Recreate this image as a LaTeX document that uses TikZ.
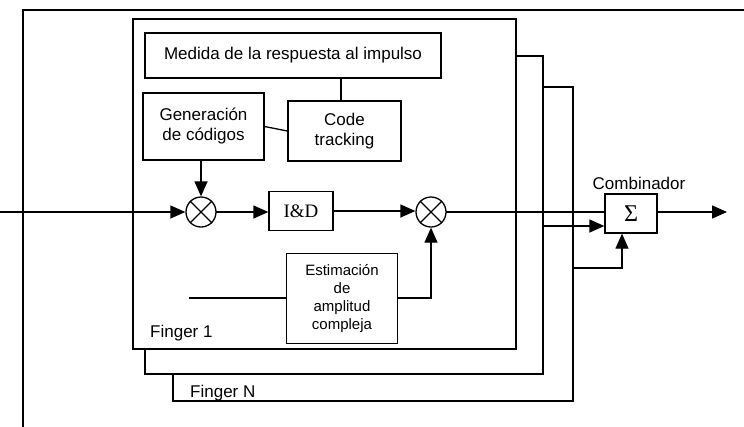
\documentclass[tikz,border=0pt]{standalone}
\usepackage{fontspec}
\setmainfont{Liberation Sans}
\newfontfamily\seriffont{Liberation Serif}
\usetikzlibrary{arrows.meta}
\tikzset{
  ln/.style={line width=1.3pt, line cap=rect},
  arr/.style={ln, -{Triangle[length=15pt,width=13pt]}},
  blk/.style={draw, line width=1.3pt, fill=white, inner sep=0pt, align=center,
    font=\fontsize{17}{20}\selectfont},
  mult/.style={draw, circle, line width=1.3pt, minimum size=30pt, inner sep=0pt, fill=white},
  fing/.style={draw, line width=1.3pt, fill=white},
  lbl/.style={inner sep=0pt, font=\fontsize{17}{20}\selectfont}
}
\begin{document}
\begin{tikzpicture}[x=1pt,y=-1pt]
\useasboundingbox (0,0) rectangle (744,426);
% outer frame
\draw[ln] (23,426) -- (23,10) -- (744,10);
% finger frames (back to front)
\draw[fing] (173,87) rectangle (573,401);
\draw[fing] (145,56) rectangle (543,374);
\draw[fing] (133,19) rectangle (516,349);
\node[lbl, anchor=base west] (f1) at (150,337) {Finger 1};
\node[lbl, anchor=base west] (fn) at (190,397) {Finger N};
% blocks
\node[blk, minimum width=296pt, minimum height=45pt] (meas) at (293,55.5) {Medida de la respuesta al impulso};
\node[blk, minimum width=121pt, minimum height=67pt] (gen) at (203.5,126.5) {Generación\\de códigos};
\node[blk, minimum width=113pt, minimum height=60pt] (code) at (344.5,131) {Code\\tracking};
\node[mult] (m1) at (201,212) {};
\draw[line width=1.3pt] (m1.north east) -- (m1.south west) (m1.north west) -- (m1.south east);
\node[blk, minimum width=64pt, minimum height=39pt, font=\seriffont\fontsize{19}{20}\selectfont] (id) at (301,211) {I\&D};
\node[mult] (m2) at (431,212) {};
\draw[line width=1.3pt] (m2.north east) -- (m2.south west) (m2.north west) -- (m2.south east);
\node[blk, minimum width=111pt, minimum height=90pt, font=\fontsize{15}{18}\selectfont] (est) at (342,298.5) {Estimación\\de\\amplitud\\compleja};
\node[blk, minimum width=52pt, minimum height=39pt, font=\seriffont\fontsize{24}{24}\selectfont] (sum) at (631,213.5) {Σ};
\node[lbl, anchor=base] (comb) at (639,189) {Combinador};
% coordinates
\coordinate (in) at (0,212);
\coordinate (estin) at (190,298);
\coordinate (f2out) at (543,226);
\coordinate (fnout) at (573,268);
\coordinate (out) at (727,212);
% connectors
\draw[ln] (meas.south -| code.north) ++(-3.5,0) -- ++(0,23);
\draw[ln] (gen.east) -- (code.west);
\draw[arr] (gen.south -| m1.north) -- (m1.north);
\draw[arr] (in) -- (m1.west);
\draw[arr] (m1.east) -- (id.west |- m1.east);
\draw[arr] (id.east) -- (m2.west |- id.east);
\draw[ln] (estin) -- (estin -| est.west);
\draw[arr] (est.east |- estin) -| (m2.south);
\draw[ln] (m2.east) -- (m2.east -| sum.west);
\draw[arr] (f2out) -- (f2out -| sum.west);
\draw[arr] (fnout) -| (sum.south -| 622,0);
\draw[arr] (sum.east |- m2.east) -- (out);
\end{tikzpicture}
\end{document}
